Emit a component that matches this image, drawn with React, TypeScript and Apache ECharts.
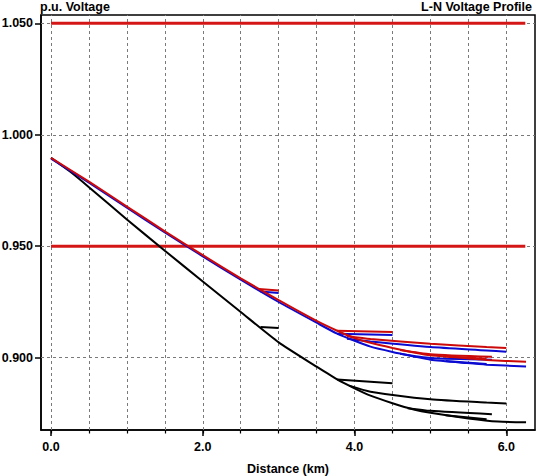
import React, { useEffect, useRef } from "react";
import * as echarts from "echarts";

// Axis ranges
const X_MIN = -0.132;
const X_MAX = 6.378;
const Y_MIN = 0.8676;
const Y_MAX = 1.0537;

// Tick / grid values
const xMajorTicks = [0, 2, 4, 6];
const xMinorTicks = [0, 0.5, 1, 1.5, 2, 2.5, 3, 3.5, 4, 4.5, 5, 5.5, 6];
const yTicks = [0.9, 0.95, 1.0, 1.05];

// Limit lines
const limitHigh = [[0, 1.05], [6.25, 1.05]];
const limitLow = [[0, 0.95], [6.25, 0.95]];

// Red phase
const redTrunk = [[0, 0.9896], [0.5, 0.979], [1.0, 0.9678], [1.5, 0.9567], [2.0, 0.946], [2.5, 0.9356], [3.0, 0.9258], [3.5, 0.9165], [3.77, 0.9121], [4.0, 0.9088], [4.21, 0.9067], [4.5, 0.9044], [4.78, 0.9024], [5.0, 0.9011], [5.48, 0.8998], [5.74, 0.899], [6.26, 0.8982]];
const redB1 = [[2.74, 0.9308], [3.0, 0.9302]];
const redB2 = [[3.77, 0.9121], [4.5, 0.9116]];
const redB3 = [[3.9, 0.9098], [4.21, 0.9084], [5.0, 0.9063], [5.74, 0.9048], [6.0, 0.9044]];
const redB4 = [[4.6, 0.9035], [5.0, 0.9016], [5.81, 0.9004]];
const redB5 = [[5.2, 0.9006], [5.74, 0.8995]];

// Blue phase
const blueTrunk = [[0, 0.9893], [0.5, 0.9785], [1.0, 0.9673], [1.5, 0.9562], [2.0, 0.9455], [2.5, 0.935], [3.0, 0.925], [3.5, 0.9157], [3.77, 0.9108], [4.0, 0.9076], [4.21, 0.905], [4.5, 0.9026], [4.78, 0.9006], [5.0, 0.8991], [5.48, 0.8976], [5.74, 0.8969], [6.26, 0.8961]];
const blueB1 = [[2.76, 0.9297], [3.0, 0.929]];
const blueB2 = [[3.77, 0.9108], [4.5, 0.9102]];
const blueB3 = [[3.9, 0.9085], [4.21, 0.9073], [5.0, 0.9048], [5.74, 0.9033], [6.0, 0.9027]];
const blueB4 = [[4.6, 0.9018], [5.0, 0.8999], [5.81, 0.8991]];
const blueB5 = [[5.2, 0.8985], [5.74, 0.8972]];

// Black phase
const blackTrunk = [[0, 0.9896], [0.25, 0.9835], [0.5, 0.9765], [1.0, 0.962], [1.5, 0.948], [2.0, 0.9342], [2.5, 0.9205], [3.0, 0.9069], [3.5, 0.896], [3.77, 0.8903], [4.0, 0.8863], [4.21, 0.883], [4.5, 0.8796], [4.78, 0.8768], [5.0, 0.8753], [5.5, 0.8728], [5.89, 0.8714], [6.26, 0.8711]];
const blackB1 = [[2.76, 0.9138], [3.0, 0.9133]];
const blackB2 = [[3.77, 0.8903], [4.5, 0.8886]];
const blackB3 = [[3.93, 0.8875], [4.21, 0.8848], [5.0, 0.8814], [5.74, 0.8799], [6.0, 0.8795]];
const blackB4 = [[4.7, 0.8774], [5.0, 0.8762], [5.81, 0.8747]];
const blackB5 = [[5.2, 0.8742], [5.74, 0.8724]];

const FONT = "'Liberation Sans', Arial, sans-serif";
const RED = "#cc0a0a";
const BLUE = "#0a0ad0";
const BLACK = "#000000";
const LIMIT = "#d41616";

function lineSeries(data: number[][], color: string, width: number, z: number, smooth: number | boolean = 0.2) {
  return {
    type: "line",
    data,
    showSymbol: false,
    symbol: "none",
    smooth,
    silent: true,
    z,
    lineStyle: { color, width },
  };
}

export default function App() {
  const ref = useRef<HTMLDivElement>(null);
  useEffect(() => {
    document.body.style.margin = "0";
    const chart = echarts.init(ref.current!, null, { renderer: "svg" });
    const textStyle = { fontFamily: FONT, fontWeight: "bold", fontSize: 12.5, color: "#000" };
    const option: any = {
      animation: false,
      backgroundColor: "#ffffff",
      title: [
        { text: "p.u. Voltage", left: 40, top: 0, padding: 0, textStyle },
        { text: "L-N Voltage Profile", right: 4, top: 0, padding: 0, textStyle },
      ],
      grid: {
        left: 41,
        right: 1,
        top: 15,
        bottom: 46,
        show: true,
        borderColor: "#000",
        borderWidth: 1.5,
        containLabel: false,
        outerBoundsMode: "none",
      },
      xAxis: [
        {
          type: "value",
          min: X_MIN,
          max: X_MAX,
          position: "bottom",
          axisLine: { show: true, onZero: false, lineStyle: { color: "#000", width: 1.5 } },
          axisTick: { show: true, customValues: xMajorTicks, length: 6, lineStyle: { color: "#000", width: 1.5 } },
          axisLabel: { customValues: xMajorTicks, formatter: (v: number) => v.toFixed(1), margin: 10, ...textStyle },
          splitLine: { show: false },
          name: "Distance (km)",
          nameLocation: "middle",
          nameGap: 32,
          nameTextStyle: textStyle,
        },
        {
          type: "value",
          min: X_MIN,
          max: X_MAX,
          position: "bottom",
          axisLine: { show: false, onZero: false },
          axisTick: { show: true, customValues: xMinorTicks, length: 3.5, lineStyle: { color: "#000", width: 1.2 } },
          axisLabel: { show: false },
          splitLine: { show: false },
        },
      ],
      yAxis: {
        type: "value",
        min: Y_MIN,
        max: Y_MAX,
        axisLine: { show: true, onZero: false, lineStyle: { color: "#000", width: 1.5 } },
        axisTick: { show: true, customValues: yTicks, length: 6, lineStyle: { color: "#000", width: 1.5 } },
        axisLabel: { customValues: yTicks, formatter: (v: number) => v.toFixed(3), margin: 8, ...textStyle },
        splitLine: { show: false },
      },
      series: [
        {
          type: "line",
          data: [[0, 1.05]],
          showSymbol: false,
          symbol: "none",
          silent: true,
          z: 1,
          lineStyle: { opacity: 0 },
          markLine: {
            silent: true,
            z: 1,
            symbol: "none",
            label: { show: false },
            lineStyle: { color: "#7a7a7a", width: 1, type: [3, 3] },
            data: [
              ...xMinorTicks.map((v) => ({ xAxis: v })),
              ...yTicks.map((v) => ({ yAxis: v })),
            ],
          },
        },
        lineSeries(limitHigh, LIMIT, 3.2, 2, false),
        lineSeries(limitLow, LIMIT, 3.2, 2, false),
        lineSeries(blackTrunk, BLACK, 2, 3),
        lineSeries(blackB1, BLACK, 2, 3, false),
        lineSeries(blackB2, BLACK, 2, 3),
        lineSeries(blackB3, BLACK, 2, 3),
        lineSeries(blackB4, BLACK, 2, 3),
        lineSeries(blackB5, BLACK, 2, 3),
        lineSeries(blueTrunk, BLUE, 2, 4),
        lineSeries(blueB1, BLUE, 2, 4, false),
        lineSeries(blueB2, BLUE, 2, 4),
        lineSeries(blueB3, BLUE, 2, 4),
        lineSeries(blueB4, BLUE, 2, 4),
        lineSeries(blueB5, BLUE, 2, 4),
        lineSeries(redTrunk, RED, 2, 5),
        lineSeries(redB1, RED, 2, 5, false),
        lineSeries(redB2, RED, 2, 5),
        lineSeries(redB3, RED, 2, 5),
        lineSeries(redB4, RED, 2, 5),
        lineSeries(redB5, RED, 2, 5),
      ],
    };
    chart.setOption(option);
    return () => chart.dispose();
  }, []);
  return (
    <div
      ref={ref}
      style={{ position: "absolute", left: 0, top: 0, width: 536, height: 476, background: "#fff" }}
    />
  );
}
